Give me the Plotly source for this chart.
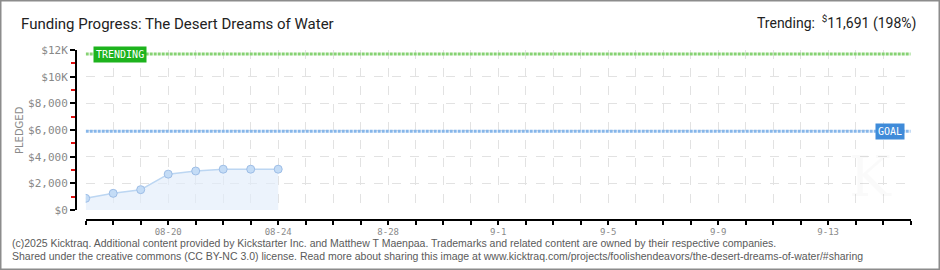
import plotly.graph_objects as go

# ---- data ----
dates = ["2025-08-17", "2025-08-18", "2025-08-19", "2025-08-20",
         "2025-08-21", "2025-08-22", "2025-08-23", "2025-08-24"]
pledged = [875, 1250, 1525, 2690, 2925, 3060, 3060, 3060]
goal = 5900
trending = 11691
x_start, x_end = "2025-08-17", "2025-09-16"
xtick_vals = ["2025-08-20", "2025-08-24", "2025-08-28", "2025-09-01",
              "2025-09-05", "2025-09-09", "2025-09-13"]
xtick_text = ["08-20", "08-24", "8-28", "9-1", "9-5", "9-9", "9-13"]
ytick_vals = [0, 2000, 4000, 6000, 8000, 10000, 12000]
ytick_text = ["$0", "$2,000", "$4,000", "$6,000", "$8,000", "$10K", "$12K"]

W, H = 940, 270
px = lambda v: v / W
py = lambda v: 1 - v / H

fig = go.Figure()

# trending and goal lines
fig.add_trace(go.Scatter(x=[x_start, x_end], y=[trending, trending], mode="lines",
                         line=dict(color="#86d273", width=3, dash="3px,1px"),
                         hoverinfo="skip", showlegend=False))
fig.add_trace(go.Scatter(x=[x_start, x_end], y=[goal, goal], mode="lines",
                         line=dict(color="#86b6ea", width=3, dash="3px,1px"),
                         hoverinfo="skip", showlegend=False))

# pledged series
fig.add_trace(go.Scatter(x=dates, y=pledged, mode="lines+markers",
                         line=dict(color="#bcd6f2", width=1.5),
                         fill="tozeroy", fillcolor="rgba(226,237,251,0.65)",
                         marker=dict(size=8, color="#c4dcf6",
                                     line=dict(color="#9dbde6", width=1)),
                         showlegend=False))

grid = "#e2e2e2"
fig.update_layout(
    width=W, height=H,
    margin=dict(l=0, r=0, t=0, b=0, autoexpand=False),
    paper_bgcolor="white", plot_bgcolor="white",
    xaxis=dict(
        type="date", domain=[px(85.7), px(910.7)], range=[x_start, x_end],
        anchor="free", position=py(219.5), automargin=False,
        tickvals=xtick_vals, ticktext=xtick_text,
        ticks="outside", ticklen=4, tickwidth=1.5, tickcolor="black",
        tickfont=dict(family="DejaVu Sans Mono", size=9, color="#8a8a8a"),
        showline=True, linecolor="black", linewidth=2,
        showgrid=True, gridcolor=grid, griddash="dash", gridwidth=1,
        zeroline=False,
        minor=dict(dtick=86400000, tick0=x_start, ticks="outside", ticklen=4,
                   tickwidth=1.5, tickcolor="black",
                   showgrid=True, gridcolor=grid, griddash="dash", gridwidth=1),
    ),
    yaxis=dict(
        domain=[py(210), py(50)], range=[0, 12000],
        anchor="free", position=px(76), automargin=False,
        tickvals=ytick_vals, ticktext=ytick_text,
        ticks="outside", ticklen=5, tickwidth=1.5, tickcolor="black",
        tickfont=dict(family="DejaVu Sans Mono", size=11, color="#888888"),
        showline=True, linecolor="black", linewidth=2,
        showgrid=True, gridcolor=grid, griddash="dash", gridwidth=1,
        zeroline=False,
        minor=dict(dtick=1000, tick0=1000, ticks="outside", ticklen=4,
                   tickwidth=1.5, tickcolor="#e01010", showgrid=False),
    ),
    showlegend=False,
)

ann = []
ann.append(dict(text="Funding Progress: The Desert Dreams of Water",
                xref="paper", yref="paper", x=px(19), y=py(24),
                xanchor="left", yanchor="middle", showarrow=False,
                font=dict(family="Roboto", size=15, color="#222222")))
ann.append(dict(text="Trending:  <sup>$</sup>11,691 (198%)",
                xref="paper", yref="paper", x=px(918), y=py(22),
                xanchor="right", yanchor="middle", showarrow=False,
                font=dict(family="Roboto", size=14, color="#222222")))
ann.append(dict(text="PLEDGED", textangle=-90,
                xref="paper", yref="paper", x=px(20), y=py(130),
                xanchor="center", yanchor="middle", showarrow=False,
                font=dict(family="DejaVu Sans", size=10, color="#8a8a8a")))
ann.append(dict(text="TRENDING", xref="paper", yref="y", x=px(93), y=trending,
                xanchor="left", yanchor="middle", showarrow=False,
                bgcolor="#1db31d", borderpad=2,
                font=dict(family="DejaVu Sans Mono", size=10, color="white")))
ann.append(dict(text="GOAL", xref="paper", yref="y", x=px(905), y=goal,
                xanchor="right", yanchor="middle", showarrow=False,
                bgcolor="#3f8bd9", borderpad=2,
                font=dict(family="DejaVu Sans Mono", size=10, color="white")))
ann.append(dict(text="K", xref="paper", yref="paper", x=px(870), y=py(176),
                xanchor="center", yanchor="middle", showarrow=False,
                font=dict(family="DejaVu Serif", size=56, color="rgba(0,0,0,0.02)")))
ann.append(dict(text="(c)2025 Kicktraq. Additional content provided by Kickstarter Inc. and Matthew T Maenpaa. Trademarks and related content are owned by their respective companies.",
                xref="paper", yref="paper", x=px(10), y=py(243),
                xanchor="left", yanchor="middle", showarrow=False,
                font=dict(family="Liberation Sans", size=10.5, color="#5a5a5a")))
ann.append(dict(text="Shared under the creative commons (CC BY-NC 3.0) license. Read more about sharing this image at www.kicktraq.com/projects/foolishendeavors/the-desert-dreams-of-water/#sharing",
                xref="paper", yref="paper", x=px(10), y=py(256),
                xanchor="left", yanchor="middle", showarrow=False,
                font=dict(family="Liberation Sans", size=10.5, color="#5a5a5a")))
fig.update_layout(annotations=ann)

fig.add_shape(type="rect", xref="paper", yref="paper", x0=0, y0=0, x1=1, y1=1,
              line=dict(color="#8c8c8c", width=3), fillcolor="rgba(0,0,0,0)")

fig.write_html("out.html")
